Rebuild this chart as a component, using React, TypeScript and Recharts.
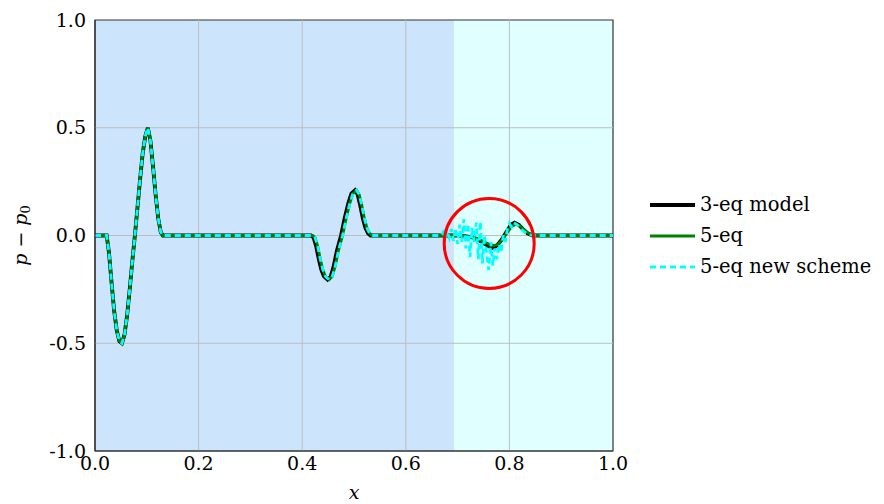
import React from "react";
import {
  LineChart,
  Line,
  XAxis,
  YAxis,
  ReferenceArea,
  ReferenceLine,
  ReferenceDot,
  Legend,
} from "recharts";

// ---- tick labels / axes ----
const xTicks = [0, 0.2, 0.4, 0.6, 0.8, 1.0];
const yTicks = [-1, -0.5, 0, 0.5, 1];
const xGrid = [0.2, 0.4, 0.6, 0.8];
const yGrid = [-0.5, 0, 0.5];

// ---- shaded regions (x ranges) ----
const region1 = [0, 0.693];
const region2 = [0.693, 1.0];

// ---- highlighted circle centre (data coords) ----
const circleCenter = { x: 0.761, y: -0.037 };

// ---- series: 3-eq model ----
const x3eq = [
  0, 0.0225, 0.027, 0.032, 0.037, 0.042, 0.047, 0.052, 0.057, 0.062, 0.067, 0.072, 0.077,
  0.082, 0.087, 0.092, 0.097, 0.102, 0.107, 0.112, 0.117, 0.122, 0.127, 0.131, 0.14,
  0.417, 0.422, 0.427, 0.432, 0.437, 0.442, 0.449, 0.455, 0.461, 0.467, 0.475, 0.482,
  0.489, 0.495, 0.502, 0.507, 0.512, 0.517, 0.522, 0.527, 0.532, 0.54,
  0.7, 0.72, 0.73, 0.74, 0.75, 0.76, 0.768, 0.775, 0.785, 0.795, 0.803, 0.81, 0.818,
  0.826, 0.835, 0.845, 1.0,
];
const y3eq = [
  0, 0, -0.08, -0.22, -0.35, -0.44, -0.49, -0.5, -0.46, -0.37, -0.25, -0.12, 0.0,
  0.13, 0.26, 0.38, 0.46, 0.5, 0.44, 0.32, 0.19, 0.08, 0.015, 0, 0,
  0, -0.01, -0.05, -0.11, -0.16, -0.19, -0.205, -0.19, -0.14, -0.07, 0.0, 0.08,
  0.15, 0.195, 0.21, 0.19, 0.14, 0.08, 0.035, 0.01, 0, 0,
  0, -0.005, -0.01, -0.02, -0.035, -0.05, -0.058, -0.05, -0.02, 0.02, 0.05, 0.06, 0.05,
  0.03, 0.01, 0, 0,
];

// ---- series: 5-eq ----
const x5eq = [
  0, 0.0225, 0.027, 0.032, 0.037, 0.042, 0.047, 0.052, 0.057, 0.062, 0.067, 0.072, 0.077,
  0.082, 0.087, 0.092, 0.097, 0.102, 0.107, 0.112, 0.117, 0.122, 0.127, 0.131, 0.14,
  0.42, 0.425, 0.43, 0.435, 0.44, 0.445, 0.452, 0.458, 0.464, 0.47, 0.478, 0.485,
  0.492, 0.498, 0.505, 0.51, 0.515, 0.52, 0.525, 0.53, 0.535, 0.54,
  0.7, 0.72, 0.73, 0.74, 0.75, 0.76, 0.77, 0.778, 0.787, 0.797, 0.805, 0.812, 0.82,
  0.828, 0.837, 0.847, 1.0,
];
const y5eq = [
  0, 0, -0.08, -0.22, -0.35, -0.44, -0.49, -0.5, -0.46, -0.37, -0.25, -0.12, 0.0,
  0.13, 0.26, 0.38, 0.46, 0.5, 0.44, 0.32, 0.19, 0.08, 0.015, 0, 0,
  0, -0.01, -0.05, -0.11, -0.16, -0.19, -0.205, -0.19, -0.14, -0.07, 0.0, 0.08,
  0.15, 0.195, 0.21, 0.19, 0.14, 0.08, 0.035, 0.01, 0, 0,
  0, -0.004, -0.008, -0.016, -0.028, -0.04, -0.047, -0.042, -0.018, 0.018, 0.043, 0.052, 0.044,
  0.027, 0.01, 0, 0,
];

// ---- series: 5-eq new scheme ----
const xNew = [
  0, 0.0225, 0.027, 0.032, 0.037, 0.042, 0.047, 0.052, 0.057, 0.062, 0.067, 0.072, 0.077,
  0.082, 0.087, 0.092, 0.097, 0.102, 0.107, 0.112, 0.117, 0.122, 0.127, 0.131, 0.14,
  0.42, 0.425, 0.43, 0.435, 0.44, 0.445, 0.452, 0.458, 0.464, 0.47, 0.478, 0.485,
  0.492, 0.498, 0.505, 0.51, 0.515, 0.52, 0.525, 0.53, 0.535, 0.54,
  0.668, 0.672, 0.676, 0.68, 0.684, 0.688, 0.692, 0.696, 0.7, 0.704, 0.708, 0.712,
  0.716, 0.72, 0.724, 0.728, 0.732, 0.736, 0.74, 0.744, 0.748, 0.752, 0.756, 0.76,
  0.764, 0.768, 0.772, 0.776, 0.78, 0.784, 0.788, 0.792, 0.796, 0.8, 0.804, 0.808,
  0.815, 0.822, 0.83, 0.84, 0.85, 1.0,
];
const yNew = [
  0, 0, -0.08, -0.22, -0.35, -0.44, -0.49, -0.5, -0.46, -0.37, -0.25, -0.12, 0.0,
  0.13, 0.26, 0.38, 0.46, 0.5, 0.44, 0.32, 0.19, 0.08, 0.015, 0, 0,
  0, -0.01, -0.05, -0.11, -0.16, -0.19, -0.205, -0.19, -0.14, -0.07, 0.0, 0.08,
  0.15, 0.195, 0.21, 0.19, 0.14, 0.08, 0.035, 0.01, 0, 0,
  0, 0.015, -0.015, 0.02, -0.01, 0.03, -0.025, 0.035, -0.04, 0.05, -0.03, 0.075,
  -0.06, 0.055, -0.1, 0.035, -0.03, 0.06, -0.11, 0.065, -0.13, 0.0, -0.08, -0.16,
  -0.03, -0.14, -0.06, -0.11, -0.04, -0.08, 0.0, -0.03, 0.03, 0.055, 0.04, 0.06,
  0.05, 0.03, 0.015, 0.003, 0, 0,
];

const toRows = (xs: number[], ys: number[]) => xs.map((x, i) => ({ x, y: ys[i] }));
const data3eq = toRows(x3eq, y3eq);
const data5eq = toRows(x5eq, y5eq);
const dataNew = toRows(xNew, yNew);

const FONT = "'DejaVu Serif', 'Liberation Serif', serif";
const GRID = "#bdbdbd";
const FS = 19;
const LFS = 19.5;

const fmt = (v: number) => v.toFixed(1);

const LegendContent = (props: any) => {
  const { payload } = props;
  return (
    <div style={{ fontFamily: FONT, fontSize: LFS, color: "#000" }}>
      {(payload || []).map((e: any, i: number) => (
        <div key={i} style={{ display: "flex", alignItems: "center", height: 31 }}>
          <svg width={50} height={10} style={{ marginRight: 2, flex: "none" }}>
            <line
              x1={2}
              y1={5}
              x2={47}
              y2={5}
              stroke={e.color}
              strokeWidth={e.payload?.strokeWidth ?? 3}
              strokeDasharray={e.payload?.strokeDasharray}
            />
          </svg>
          <span style={{ whiteSpace: "nowrap" }}>{e.value}</span>
        </div>
      ))}
    </div>
  );
};

const YLabel = (props: any) => {
  const { viewBox } = props;
  const cx = 12;
  const cy = viewBox.y + viewBox.height / 2;
  return (
    <text
      x={cx}
      y={cy}
      transform={`rotate(-90, ${cx}, ${cy})`}
      textAnchor="middle"
      dominantBaseline="central"
      fontFamily={FONT}
      fontSize={FS}
      fill="#000"
    >
      <tspan fontStyle="italic">p</tspan>
      <tspan> − </tspan>
      <tspan fontStyle="italic">p</tspan>
      <tspan fontSize={13} dy={5}>0</tspan>
    </text>
  );
};

const XLabel = (props: any) => {
  const { viewBox } = props;
  const cx = viewBox.x + viewBox.width / 2;
  const cy = viewBox.y + 41;
  return (
    <text
      x={cx}
      y={cy}
      textAnchor="middle"
      dominantBaseline="central"
      fontFamily={FONT}
      fontSize={FS}
      fontStyle="italic"
      fill="#000"
    >
      x
    </text>
  );
};

export default function App() {
  return (
    <LineChart
      width={868}
      height={496}
      margin={{ top: 12, right: 27, bottom: 8, left: 0 }}
    >
      <XAxis
        type="number"
        dataKey="x"
        domain={[0, 1]}
        ticks={xTicks}
        tickFormatter={fmt}
        allowDataOverflow
        tickLine={false}
        tickSize={0}
        tickMargin={6}
        height={45}
        axisLine={{ stroke: "#333", strokeWidth: 1.2 }}
        tick={{ fontFamily: FONT, fontSize: FS, fill: "#000" }}
        label={<XLabel />}
      />
      <YAxis
        type="number"
        dataKey="y"
        domain={[-1, 1]}
        ticks={yTicks}
        tickFormatter={fmt}
        allowDataOverflow
        tickLine={false}
        tickSize={0}
        tickMargin={9}
        width={87}
        axisLine={{ stroke: "#333", strokeWidth: 1.2 }}
        tick={{ fontFamily: FONT, fontSize: FS, fill: "#000" }}
        label={<YLabel />}
      />
      <ReferenceArea x1={region1[0]} x2={region1[1]} y1={-1} y2={1} fill="#cce5fc" fillOpacity={1} stroke="none" />
      <ReferenceArea x1={region2[0]} x2={region2[1]} y1={-1} y2={1} fill="#e0ffff" fillOpacity={1} stroke="none" />
      {xGrid.map((v) => (
        <ReferenceLine key={"gx" + v} x={v} stroke={GRID} strokeWidth={1} />
      ))}
      {yGrid.map((v) => (
        <ReferenceLine key={"gy" + v} y={v} stroke={GRID} strokeWidth={1} />
      ))}
      <ReferenceArea x1={0} x2={1} y1={-1} y2={1} fill="none" stroke="#333" strokeWidth={1.2} />
      <Line
        data={data3eq}
        dataKey="y"
        name="3-eq model"
        type="linear"
        stroke="#000000"
        strokeWidth={3.8}
        dot={false}
        isAnimationActive={false}
      />
      <Line
        data={data5eq}
        dataKey="y"
        name="5-eq"
        type="linear"
        stroke="#008000"
        strokeWidth={2.8}
        dot={false}
        isAnimationActive={false}
      />
      <Line
        data={dataNew}
        dataKey="y"
        name="5-eq new scheme"
        type="linear"
        stroke="#00ffff"
        strokeWidth={2.8}
        strokeDasharray="6 4"
        dot={false}
        isAnimationActive={false}
      />
      <ReferenceDot
        x={circleCenter.x}
        y={circleCenter.y}
        r={45}
        fill="none"
        stroke="#ff0000"
        strokeWidth={3}
      />
      <Legend
        layout="vertical"
        verticalAlign="middle"
        align="right"
        content={<LegendContent />}
        wrapperStyle={{ position: "absolute", left: 640, top: 181, width: 236 }}
      />
    </LineChart>
  );
}
